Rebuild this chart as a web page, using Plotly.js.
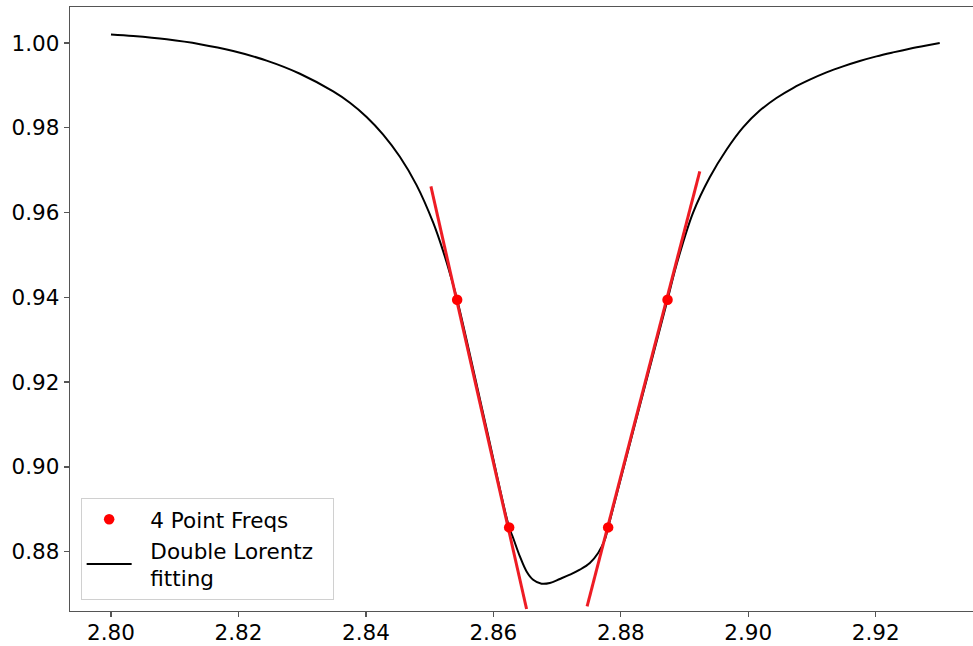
<!DOCTYPE html>
<html>
<head>
<meta charset="utf-8">
<script src="https://cdn.plot.ly/plotly-3.0.1.min.js"></script>
<style>html,body{margin:0;padding:0;background:#fff;}#chart{width:973px;height:646px;}</style>
</head>
<body>
<div id="chart"></div>
<script>
// Double Lorentz fitting curve
const fitX = [2.80000,2.80350,2.80874,2.81396,2.81918,2.82442,2.82965,2.83487,2.83749,2.84011,2.84271,2.84533,2.84795,2.85056,2.85213,2.85318,2.85432,2.85879,2.86248,2.86311,2.86416,2.86521,2.86624,2.86756,2.86886,2.87043,2.87200,2.87357,2.87514,2.87644,2.87749,2.87801,2.88221,2.88733,2.88874,2.89134,2.89396,2.89658,2.89918,2.90180,2.90442,2.90702,2.90965,2.91227,2.91487,2.91749,2.92011,2.92271,2.92533,2.92795,2.93004];
const fitY = [1.00203,1.00165,1.00086,0.99971,0.99809,0.99584,0.99275,0.98857,0.98590,0.98255,0.97839,0.97315,0.96647,0.95760,0.95085,0.94565,0.93945,0.91000,0.88573,0.88323,0.87889,0.87535,0.87339,0.87245,0.87261,0.87356,0.87457,0.87575,0.87733,0.87969,0.88283,0.88573,0.91000,0.93945,0.94770,0.96000,0.96835,0.97483,0.98010,0.98405,0.98703,0.98938,0.99134,0.99306,0.99448,0.99575,0.99684,0.99778,0.99866,0.99943,1.00000];

// 4 point frequencies
const pointX = [2.85432, 2.86248, 2.87801, 2.88733];
const pointY = [0.93945, 0.88573, 0.88573, 0.93945];

// slope lines through point pairs
const leftLineX = [2.85020, 2.86521];
const leftLineY = [0.96617, 0.86648];
const rightLineX = [2.87471, 2.89239];
const rightLineY = [0.86709, 0.96971];

const xTicks = [2.80, 2.82, 2.84, 2.86, 2.88, 2.90, 2.92];
const xTickText = ["2.80", "2.82", "2.84", "2.86", "2.88", "2.90", "2.92"];
const yTicks = [0.88, 0.90, 0.92, 0.94, 0.96, 0.98, 1.00];
const yTickText = ["0.88", "0.90", "0.92", "0.94", "0.96", "0.98", "1.00"];

const FONT = "DejaVu Sans, Liberation Sans, sans-serif";
const FS = 21.5;
const SP = "\u00a0\u00a0";

const traces = [
  {
    x: fitX, y: fitY, type: "scatter", mode: "lines",
    name: SP + "Double Lorentz" + SP + "<br>" + SP + "fitting",
    line: {color: "#000000", width: 2, shape: "spline", smoothing: 1},
    legendrank: 2
  },
  {
    x: leftLineX, y: leftLineY, type: "scatter", mode: "lines",
    line: {color: "#ee1c24", width: 3}, showlegend: false, hoverinfo: "skip"
  },
  {
    x: rightLineX, y: rightLineY, type: "scatter", mode: "lines",
    line: {color: "#ee1c24", width: 3}, showlegend: false, hoverinfo: "skip"
  },
  {
    x: pointX, y: pointY, type: "scatter", mode: "markers",
    name: SP + "4 Point Freqs",
    marker: {color: "#ff0000", size: 10.5},
    legendrank: 1
  }
];

const layout = {
  width: 973, height: 646,
  margin: {l: 70, r: 0, t: 7, b: 35, pad: 0},
  paper_bgcolor: "#ffffff", plot_bgcolor: "#ffffff",
  font: {family: FONT, size: FS, color: "#000000"},
  showlegend: true,
  xaxis: {
    range: [2.79357, 2.93526],
    tickmode: "array", tickvals: xTicks, ticktext: xTickText,
    ticks: "outside", ticklen: 5, tickwidth: 1.3, tickcolor: "#555555",
    ticklabelstandoff: -3,
    showline: true, linecolor: "#555555", linewidth: 1.3, mirror: true,
    showgrid: false, zeroline: false,
    tickfont: {family: FONT, size: FS, color: "#000000"}
  },
  yaxis: {
    range: [0.86601, 1.00849],
    tickmode: "array", tickvals: yTicks, ticktext: yTickText,
    ticks: "outside", ticklen: 5, tickwidth: 1.3, tickcolor: "#555555",
    showline: true, linecolor: "#555555", linewidth: 1.3, mirror: false,
    showgrid: false, zeroline: false,
    tickfont: {family: FONT, size: FS, color: "#000000"}
  },
  legend: {
    x: 0.0118, y: 0.0187, xanchor: "left", yanchor: "bottom",
    bgcolor: "rgba(255,255,255,0.8)", bordercolor: "#d0d0d0", borderwidth: 1,
    font: {family: FONT, size: FS, color: "#000000"},
    itemwidth: 45, tracegroupgap: 0
  }
};

Plotly.newPlot("chart", traces, layout, {displayModeBar: false, staticPlot: true});
</script>
</body>
</html>
